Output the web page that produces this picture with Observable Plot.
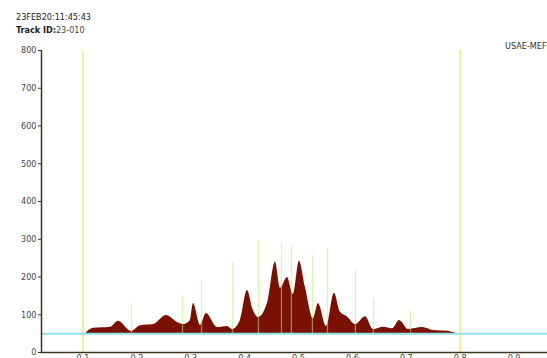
<!DOCTYPE html>
<html>
<head>
<meta charset="utf-8">
<script src="https://cdn.jsdelivr.net/npm/d3@7"></script>
<script src="https://cdn.jsdelivr.net/npm/@observablehq/plot@0.6"></script>
<style>
  html, body { margin:0; padding:0; background:#fff; overflow:hidden; width:547px; height:358px; }
  #wrap { position:relative; width:547px; height:358px; overflow:hidden; }
  .lbl { position:absolute; font-family:"Liberation Sans Narrow","DejaVu Sans Condensed","Liberation Sans",sans-serif; font-size:9px; color:#222; white-space:nowrap; }
  #chart { position:absolute; left:0; top:0; }
</style>
</head>
<body>
<div id="wrap">
  <div id="chart"></div>
  <div class="lbl" style="left:16px;top:12px;">23FEB20:11:45:43</div>
  <div class="lbl" style="left:16px;top:25px;"><b>Track ID:</b><span style="color:#444">23-010</span></div>
  <div class="lbl" style="left:505px;top:41px;color:#333;">USAE-MEFE</div>
</div>
<script>
// Spectrum profile (x position, count)
const profileX = [0.1046,0.1195,0.151,0.1659,0.19,0.2067,0.2308,0.2549,0.2772,0.2865,0.2994,0.305,0.318,0.3291,0.3495,0.3681,0.3774,0.3922,0.4052,0.4163,0.4256,0.4423,0.4571,0.4664,0.4794,0.4905,0.5017,0.5128,0.5276,0.5369,0.5518,0.5666,0.5777,0.5907,0.6056,0.6243,0.6391,0.6577,0.6744,0.6874,0.7041,0.7301,0.7505,0.7765,0.7932];
const profileY = [50,64,67,83,56,71,74,98,78,74,85,130,72,103,66,69,61,85,164,111,93,130,239,170,199,154,242,173,90,130,69,157,107,94,74,95,61,67,63,85,61,66,58,56,50];
// Marker lines (x position, top value)
const markerX = [0.19,0.2846,0.32,0.3774,0.4256,0.4683,0.4868,0.5258,0.5537,0.6056,0.639,0.7078];
const markerTop = [130,151,191,238,297,289,283,257,275,217,143,111];
// Reference lines
const boundsX = [0.1, 0.8];
const baseline = 50;
const xTicks = [0.1,0.2,0.3,0.4,0.5,0.6,0.7,0.8,0.9];
const yTicks = [0,100,200,300,400,500,600,700,800];

const profile = profileX.map((x,i)=>({x, y: profileY[i]}));
const markers = markerX.map((x,i)=>({x, top: markerTop[i]}));
const xMin = 0.023, xMax = 0.962;

const chart = Plot.plot({
  width: 547, height: 372,
  marginTop: 50, marginBottom: 20, marginLeft: 41, marginRight: 0,
  style: { fontFamily: '"Liberation Sans Narrow","DejaVu Sans Condensed",sans-serif', fontSize: "9px", background: "transparent" },
  x: { domain: [xMin, xMax], axis: null },
  y: { domain: [0, 800], axis: null },
  marks: [
    Plot.ruleX(boundsX, { y1: 0, y2: 800, stroke: "#f6ea88", strokeWidth: 1.6 }),
    Plot.areaY(profile, { x: "x", y1: baseline, y2: "y", fill: "#7a1000", curve: "monotone-x" }),
    Plot.ruleX(markers, { x: "x", y1: baseline, y2: "top", stroke: "#b9ef7c", strokeWidth: 1.3, strokeOpacity: 0.55 }),
    Plot.ruleY([baseline], { stroke: "#8fe2ea", strokeWidth: 2 }),
    Plot.axisY({ ticks: yTicks, tickSize: 3, tickPadding: 2, stroke: "#3b3420", fill: "#444" }),
    Plot.axisX({ ticks: xTicks, tickSize: 0, tickPadding: 2, tickFormat: d => d3.format(".1f")(d), fill: "#444" }),
    Plot.ruleX([xMin], { y1: 0, y2: 800, stroke: "#3b3420", strokeWidth: 1.5 }),
    Plot.ruleY([0], { stroke: "#3b3420", strokeWidth: 1.5 })
  ]
});
document.getElementById("chart").appendChild(chart);
</script>
</body>
</html>
